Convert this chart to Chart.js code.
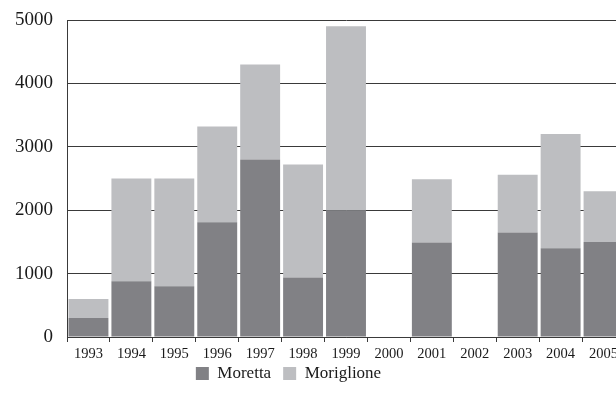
<!DOCTYPE html>
<html>
<head>
<meta charset="utf-8">
<script src="https://cdn.jsdelivr.net/npm/chart.js@4/dist/chart.umd.min.js"></script>
<style>
  html, body { margin: 0; padding: 0; background: #fff; }
  #ritaglio { width: 616px; height: 409px; overflow: hidden; }
  #contenitore { width: 640px; height: 409px; position: relative; }
</style>
</head>
<body>
<div id="ritaglio">
  <div id="contenitore"><canvas id="grafico"></canvas></div>
</div>
<script>
//---------------
// Dati
//---------------
const anni = ['1993', '1994', '1995', '1996', '1997', '1998', '1999', '2000', '2001', '2002', '2003', '2004', '2005'];
const moretta = [300, 880, 800, 1810, 2800, 940, 2000, 0, 1490, 0, 1650, 1400, 1500];
const moriglione = [300, 1620, 1700, 1510, 1500, 1780, 2900, 0, 1000, 0, 910, 1800, 800];

const coloreTesto = '#1a1a1a';
const coloreLinee = '#3a3a3a';
const serif = '"Liberation Serif", "DejaVu Serif", serif';

// sposta la legenda dove sta nell'originale
const spostaLegenda = {
  id: 'spostaLegenda',
  afterLayout(chart) {
    const l = chart.legend;
    if (!l) return;
    const h = l.bottom - l.top;
    l.left = 0;
    l.right = 577;
    l.top = 353;
    l.bottom = 353 + h;
  }
};

const grafico = new Chart(document.getElementById('grafico'), {
  type: 'bar',
  data: {
    labels: anni,
    datasets: [
      { label: 'Moretta', data: moretta, backgroundColor: '#818185', borderWidth: 0 },
      { label: 'Moriglione', data: moriglione, backgroundColor: '#bdbec1', borderWidth: 0 }
    ]
  },
  options: {
    responsive: true,
    maintainAspectRatio: false,
    animation: false,
    layout: { padding: { left: 0, top: 20, right: 15, bottom: 7 } },
    datasets: { bar: { categoryPercentage: 1, barPercentage: 0.93 } },
    scales: {
      x: {
        stacked: true,
        grid: { offset: true, drawOnChartArea: false, drawTicks: true, tickLength: 5, color: coloreLinee },
        border: { display: true, color: coloreLinee, width: 1 },
        ticks: { color: coloreTesto, font: { family: serif, size: 14.5 }, padding: 3, maxRotation: 0, autoSkip: false },
        afterFit(scale) { scale.height = 26; scale.paddingLeft = 0; scale.paddingRight = 0; }
      },
      y: {
        stacked: true,
        min: 0,
        max: 5000,
        grid: { drawTicks: false, color: coloreLinee, lineWidth: 1 },
        border: { display: true, color: coloreLinee, width: 1 },
        ticks: { stepSize: 1000, color: coloreTesto, font: { family: serif, size: 19 }, padding: 14, callback: v => String(v) },
        afterFit(scale) { scale.width = 67; scale.paddingTop = 0; scale.paddingBottom = 0; }
      }
    },
    plugins: {
      legend: {
        position: 'bottom',
        labels: { boxWidth: 13, boxHeight: 13, padding: 12, color: coloreTesto, font: { family: serif, size: 17 } }
      },
      tooltip: { enabled: false }
    }
  },
  plugins: [spostaLegenda]
});
</script>
</body>
</html>
